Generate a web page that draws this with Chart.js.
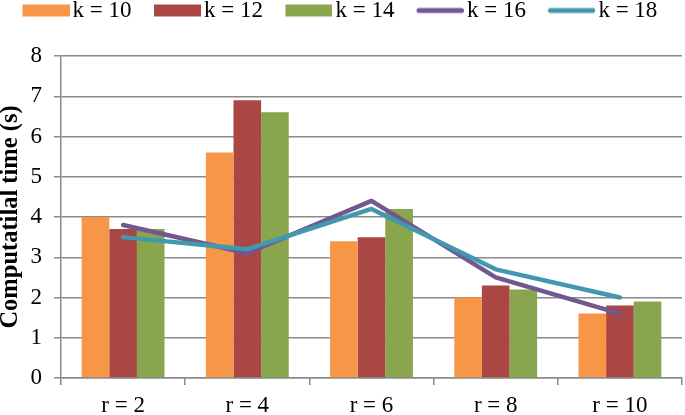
<!DOCTYPE html>
<html>
<head>
<meta charset="utf-8">
<script src="https://cdn.jsdelivr.net/npm/chart.js@4/dist/chart.umd.min.js"></script>
<style>
  html, body { margin: 0; padding: 0; background: #fff; }
  #wrap { width: 685px; height: 415px; }
</style>
</head>
<body>
<div id="wrap"><canvas id="timeChart"></canvas></div>
<script>
// categories and series
const categories = ['r = 2', 'r = 4', 'r = 6', 'r = 8', 'r = 10'];
const k10 = [4.0, 5.6, 3.4, 2.0, 1.6];
const k12 = [3.7, 6.9, 3.5, 2.3, 1.8];
const k14 = [3.7, 6.6, 4.2, 2.2, 1.9];
const k16 = [3.8, 3.1, 4.4, 2.5, 1.6];
const k18 = [3.5, 3.2, 4.2, 2.7, 2.0];

const serif = "'Liberation Serif', 'Times New Roman', serif";
const gridGray = '#8a8a8a';

function barSet(label, data, color) {
    return {
        type: 'bar', label: label, data: data,
        backgroundColor: color, borderWidth: 0,
        barPercentage: 1, categoryPercentage: 0.667,
        order: 1
    };
}

function lineSet(label, data, color, order) {
    return {
        type: 'line', label: label, data: data,
        borderColor: color, backgroundColor: color,
        borderWidth: 4.5, pointRadius: 0, tension: 0,
        borderCapStyle: 'round', borderJoinStyle: 'round',
        order: order
    };
}

const datasets = [
    barSet('k = 10', k10, '#F79646'),
    barSet('k = 12', k12, '#AA4643'),
    barSet('k = 14', k14, '#89A54E'),
    lineSet('k = 16', k16, '#71588F', 0),
    lineSet('k = 18', k18, '#4198AF', -1)
];

// legend marker drawn at the right side of a wider image, so it sits
// close to its text like in Excel
const SLOT = 60;
function legendMarker(color, isLine) {
    const c = document.createElement('canvas');
    c.width = SLOT + 17;
    c.height = 14;
    const g = c.getContext('2d');
    if (isLine) {
        g.strokeStyle = color;
        g.lineWidth = 5;
        g.lineCap = 'round';
        g.beginPath();
        g.moveTo(c.width - 45, 7);
        g.lineTo(c.width - 2.5, 7);
        g.stroke();
    } else {
        g.fillStyle = color;
        g.fillRect(c.width - 47, 1, 47, 12);
    }
    return c;
}

// leave room under the legend, like the original
const legendGap = {
    id: 'legendGap',
    beforeInit(chart) {
        const fit = chart.legend.fit;
        chart.legend.fit = function () {
            fit.bind(chart.legend)();
            this.height = 58;
        };
    }
};

new Chart(document.getElementById('timeChart'), {
    data: { labels: categories, datasets: datasets },
    plugins: [legendGap],
    options: {
        responsive: true,
        maintainAspectRatio: false,
        animation: false,
        layout: { padding: { left: 0, right: 3, top: -2, bottom: 0 } },
        plugins: {
            tooltip: { enabled: false },
            legend: {
                position: 'top',
                align: 'start',
                labels: {
                    usePointStyle: true,
                    pointStyleWidth: SLOT,
                    boxHeight: 14,
                    padding: 1,
                    color: '#000',
                    font: { family: serif, size: 23 },
                    // keep data order, bars as boxes and lines as strokes
                    generateLabels: function (chart) {
                        return chart.data.datasets.map((ds, i) => ({
                            text: ds.label,
                            fillStyle: ds.backgroundColor,
                            strokeStyle: ds.backgroundColor,
                            lineWidth: 0,
                            pointStyle: legendMarker(ds.type === 'line' ? ds.borderColor : ds.backgroundColor, ds.type === 'line'),
                            fontColor: '#000',
                            hidden: false,
                            datasetIndex: i
                        }));
                    }
                }
            }
        },
        scales: {
            x: {
                offset: true,
                afterFit: function (scale) { scale.height = 37; },
                grid: {
                    offset: true,
                    drawOnChartArea: false,
                    drawTicks: true,
                    tickLength: 7,
                    color: gridGray,
                    lineWidth: 1.5
                },
                border: { color: gridGray, width: 1.5 },
                ticks: {
                    color: '#000',
                    padding: 7,
                    font: { family: serif, size: 23 }
                }
            },
            y: {
                min: 0,
                max: 8,
                afterFit: function (scale) { scale.width = 61; },
                grid: {
                    color: gridGray,
                    lineWidth: 1.5,
                    tickLength: 7
                },
                border: { color: gridGray, width: 1.5 },
                ticks: {
                    stepSize: 1,
                    color: '#000',
                    padding: 12,
                    font: { family: serif, size: 23 }
                },
                title: {
                    display: true,
                    text: 'Computatilal time (s)',
                    color: '#000',
                    padding: { top: -2, bottom: 0 },
                    font: { family: serif, size: 24.5, weight: 'bold', lineHeight: 1 }
                }
            }
        }
    }
});
</script>
</body>
</html>
